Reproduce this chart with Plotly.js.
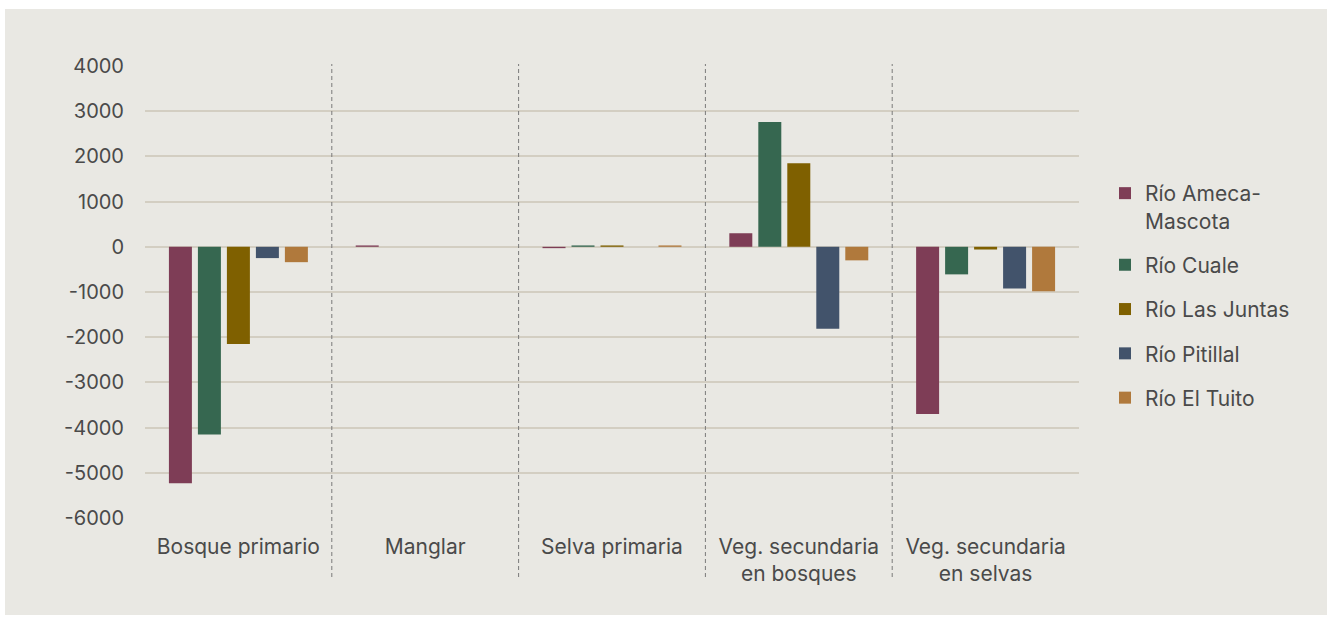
<!DOCTYPE html>
<html>
<head>
<meta charset="utf-8">
<script src="https://cdn.plot.ly/plotly-3.0.1.min.js"></script>
<style>html,body{margin:0;padding:0;background:#fff;}#chart{width:1328px;height:617px;}</style>
</head>
<body>
<div id="chart"></div>
<script>
const categories = ['Bosque primario', 'Manglar', 'Selva primaria', 'Veg. secundaria<br>en bosques', 'Veg. secundaria<br>en selvas'];
const seriesNames = ['Río Ameca-<br>Mascota', 'Río Cuale', 'Río Las Juntas', 'Río Pitillal', 'Río El Tuito'];
const ameca = [-5230, 30, -30, 300, -3700];
const cuale = [-4150, 0, 30, 2760, -610];
const juntas = [-2150, 0, 30, 1850, -60];
const pitillal = [-250, 0, 0, -1815, -920];
const tuito = [-340, 0, 30, -300, -985];
const yTicks = [4000, 3000, 2000, 1000, 0, -1000, -2000, -3000, -4000, -5000, -6000];

const colors = ['#7e3d56', '#366750', '#7f6000', '#42536b', '#b0793c'];
const values = [ameca, cuale, juntas, pitillal, tuito];
const FONT = 'Inter, sans-serif';
const TXT = '#4a4a4a';

const traces = values.map((v, i) => ({
  type: 'bar',
  name: seriesNames[i],
  x: categories,
  y: v,
  marker: {color: colors[i]},
  legendgroup: 'g' + i,
  hoverinfo: 'x+y+name'
}));

const L = 145, R = 249, T = 65, B = 98, W = 1328, H = 617;
const pw = W - L - R, ph = H - T - B;
const px2x = p => (p - L) / pw;
const py2y = p => (H - B - p) / ph;

const shapes = [{
  type: 'rect', xref: 'paper', yref: 'paper', layer: 'below',
  x0: px2x(5), x1: px2x(1327), y0: py2y(615), y1: py2y(9),
  fillcolor: '#e9e8e3', line: {width: 0}
}];
for (let k = 0; k < categories.length - 1; k++) {
  shapes.push({
    type: 'line', xref: 'x', yref: 'paper', layer: 'above',
    x0: k + 0.5, x1: k + 0.5, y0: py2y(577), y1: py2y(64),
    line: {color: '#7a7a7a', width: 1, dash: '4px,3px'}
  });
}

const layout = {
  width: W, height: H,
  margin: {l: L, r: R, t: T, b: B, pad: 0},
  paper_bgcolor: '#ffffff',
  plot_bgcolor: '#e9e8e3',
  barmode: 'group',
  bargap: 0.224,
  bargroupgap: 0.207,
  font: {family: FONT, color: TXT, size: 20},
  showlegend: true,
  legend: {
    x: px2x(1105), xanchor: 'left',
    y: py2y(173), yanchor: 'top',
    font: {family: FONT, size: 21, color: TXT},
    bgcolor: 'rgba(0,0,0,0)',
    traceorder: 'grouped',
    tracegroupgap: 14,
    valign: 'top'
  },
  xaxis: {
    type: 'category',
    showgrid: false, zeroline: false, showline: false,
    ticks: '',
    ticklabelstandoff: 13,
    tickfont: {family: FONT, size: 21, color: TXT},
    fixedrange: true
  },
  yaxis: {
    range: [-6022, 4022],
    tickmode: 'array', tickvals: yTicks, ticktext: yTicks.map(String),
    showgrid: true, gridcolor: '#d3cec2', gridwidth: 2,
    zeroline: false, showline: false, ticks: '',
    ticklabelstandoff: 20,
    tickfont: {family: FONT, size: 20, color: TXT},
    fixedrange: true
  },
  shapes: shapes
};

Plotly.newPlot('chart', traces, layout, {displayModeBar: false, staticPlot: true});
</script>
</body>
</html>
